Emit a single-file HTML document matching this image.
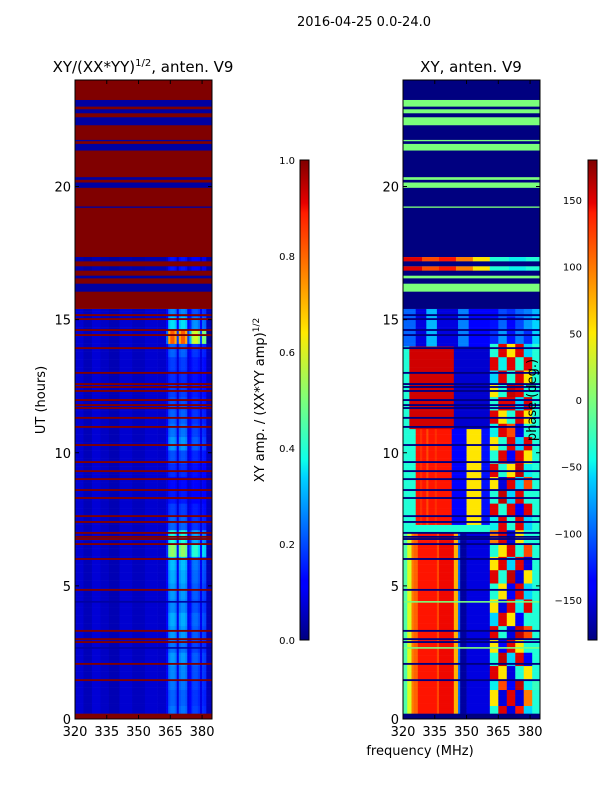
<!DOCTYPE html>
<html><head><meta charset="utf-8">
<style>
body{margin:0;background:#fff;}
svg{display:block;font-family:"DejaVu Sans","Liberation Sans",sans-serif;}
</style></head>
<body>
<svg id="fig" width="600" height="800" viewBox="0 0 600 800">
<defs>
<linearGradient id="jet" x1="0" y1="1" x2="0" y2="0">
<stop offset="0" stop-color="#000080"/><stop offset="0.11" stop-color="#0000ff"/>
<stop offset="0.125" stop-color="#0000ff"/><stop offset="0.34" stop-color="#00d4ff"/>
<stop offset="0.375" stop-color="#0dffea"/><stop offset="0.5" stop-color="#7dff7a"/>
<stop offset="0.64" stop-color="#ffea00"/><stop offset="0.66" stop-color="#ffd800"/>
<stop offset="0.89" stop-color="#ff1c00"/><stop offset="0.91" stop-color="#e80000"/>
<stop offset="1" stop-color="#800000"/>
</linearGradient>
</defs>
<text x="364" y="26" font-size="13" text-anchor="middle">2016-04-25 0.0-24.0</text>
<text x="143" y="72" font-size="15" text-anchor="middle">XY/(XX*YY)<tspan font-size="10" dy="-6">1/2</tspan><tspan dy="6">, anten. V9</tspan></text>
<text x="471" y="72" font-size="15" text-anchor="middle">XY, anten. V9</text>
<g id="leftHM"></g>
<g id="rightHM"></g>
<g id="axes"></g>
<text transform="translate(45,400) rotate(-90)" font-size="13" text-anchor="middle">UT (hours)</text>
<text x="420" y="755" font-size="13" text-anchor="middle">frequency (MHz)</text>
<rect x="300" y="160" width="9" height="480" fill="url(#jet)" stroke="#000" stroke-width="1"/>
<rect x="588" y="160" width="9" height="480" fill="url(#jet)" stroke="#000" stroke-width="1"/>
<text transform="translate(264,400) rotate(-90)" font-size="13" text-anchor="middle">XY amp. / (XX*YY amp)<tspan font-size="9" dy="-5">1/2</tspan></text>
<text transform="translate(536,400) rotate(-90)" font-size="13" text-anchor="middle">phase (deg.)</text>
</svg>
<script>
// ---- data ----
const freqStart = 320;
const ampProfile = [0.07,0.07,0.07,0.07,0.05,0.05,0.05,0.05,0.075,0.075,0.075,0.075,0.06,0.06,0.06,0.06,0.045,0.045,0.045,0.045,0.045,0.07,0.07,0.07,0.07,0.07,0.07,0.055,0.055,0.055,0.055,0.055,0.055,0.07,0.07,0.07,0.07,0.07,0.07,0.065,0.065,0.065,0.065,0.10,0.22,0.24,0.24,0.22,0.09,0.22,0.24,0.24,0.22,0.09,0.12,0.18,0.19,0.19,0.17,0.09,0.17,0.16,0.05,0.05,0.05];
const rowMod = [1.0,0.9,1.0,1.1,1.2,1.0,1.2,1.3,1.1,1.2,1.3,1.4,2.6,1.8,0.9,0.7,0.5,0.4,0.6,0.8,1.2,1.0,0.9,0.8,0.7,0.6,0.7,0.9,4.2,1.6,1.1];
const phaseLow = [-20,-20,40,40,100,110,110,140,140,140,140,140,140,140,140,140,120,145,145,145,145,145,145,145,80,80,-100,-170,-170,-170,-150,-150,-150,-150,-150,-150,-150,-150,-150,-150,-150];
const phaseHighA = [-40,-40,-40,-40,-40,-40,140,140,130,140,140,120,140,140,140,130,140,140,140,140,140,140,140,-140,-140,-140,-140,-140,-140,-140,60,60,60,60,60,60,60,-130,-130,-130,-130];
const phaseHighB = [-40,-40,-40,155,155,155,155,155,155,155,155,155,155,155,155,155,155,155,155,155,155,155,155,155,-155,-155,-155,-155,-155,-155,-155,-155,-155,-155,-155,-155,-155,-155,-155,-155,-155];
const phaseTrans = [-100,-100,-100,-100,-100,-100,-150,-150,-150,-150,-150,-70,-70,-70,-70,-70,-150,-150,-150,-150,-150,-150,-150,-150,-150,-150,-90,-90,-90,-90,-90,-140,-140,-140,-140,-140,-140,-140,-140,-140,-140];
const phaseMix = [
[-40,150,-150,140,-60,-40],[60,-150,150,-150,100,-40],[-50,120,-140,160,-50,-30],[150,60,-150,-40,60,-40],
[-40,160,-60,150,-140,-40],[60,-140,150,60,-40,-40],[150,-40,-150,160,120,-40],[-60,150,60,-140,-40,-40],
[60,-150,150,-50,150,-40],[-40,60,-140,150,-60,-40],[150,-40,160,-150,60,-40],[60,150,-60,150,-150,-40],
[-40,60,150,-40,120,-40],[100,150,-150,60,-40,-40],[-50,150,-40,150,-60,-40],[150,-40,150,-140,150,-40],
[-40,160,-60,150,-40,-40],[60,-150,150,-60,120,-40],[150,-40,60,160,-50,-40],[-40,150,-140,150,60,-40],
[60,-40,150,-60,150,-40],[-50,150,120,-150,-40,-40],[150,60,-40,150,60,-40],[-40,150,150,-60,150,-40],
[60,-40,160,150,-40,-40],[-60,150,-40,150,60,-40],[150,-50,150,-40,150,-40],[-40,150,60,150,-60,-40],
[-120,-80,-130,-90,-120,-60],[-130,-100,-140,-110,-80,-60],[-140,-110,-120,-100,-90,-70]];
const topBands = [[23.0,23.25],[22.75,22.9],[22.3,22.6],[21.7,21.75],[21.35,21.6],[20.25,20.35],[19.95,20.15],[19.2,19.25],[17.2,17.35],[16.85,17.0],[16.55,16.65],[16.05,16.35]];
const topDataBands = [[17.2,17.35],[16.85,17.0]];
const topDataPhase = [150,120,140,100,60,-40,-50,-40];
const flagLines = [15.17,15.02,14.61,14.42,13.93,13.0,12.58,12.47,12.32,11.98,11.79,11.68,11.31,10.97,10.29,9.65,9.31,9.01,8.6,8.3,7.62,7.4,6.99,6.84,6.76,6.57,6.01,4.85,3.31,3.0,2.89,2.07,1.46];
const zeroLines = [4.4,2.67];
const yTicks = [0,5,10,15,20];
const xTicks = [320,335,350,365,380];
const ampTicks = ["0.0","0.2","0.4","0.6","0.8","1.0"];
const phaseTicks = [-150,-100,-50,0,50,100,150];

// ---- scales ----
const NS="http://www.w3.org/2000/svg";
const Y0=719, PXH=26.625, PXF=2.118;
function yS(h){return Y0-h*PXH;}
function xS(f,off){return off+(f-freqStart)*PXF;}
function jet(t){
  t=Math.max(0,Math.min(1,t));
  function seg(pts){for(let i=0;i<pts.length-1;i++){const a=pts[i],b=pts[i+1];if(t>=a[0]&&t<=b[0]){return a[1]+(b[1]-a[1])*(t-a[0])/(b[0]-a[0]);}}return pts[pts.length-1][1];}
  const r=seg([[0,0],[0.35,0],[0.66,1],[0.89,1],[1,0.5]]);
  const g=seg([[0,0],[0.125,0],[0.375,1],[0.64,1],[0.91,0],[1,0]]);
  const b=seg([[0,0.5],[0.11,1],[0.34,1],[0.65,0],[1,0]]);
  return "rgb("+Math.round(r*255)+","+Math.round(g*255)+","+Math.round(b*255)+")";
}
function ampCol(v){return jet(v);}
function phCol(p){return jet((p+180)/360);}
function rect(g,x,y,w,h,fill,name){
  const r=document.createElementNS(NS,"rect");
  r.setAttribute("x",x);r.setAttribute("y",y);r.setAttribute("width",w);r.setAttribute("height",h);r.setAttribute("fill",fill);
  
  
  g.appendChild(r);
}
const NF=ampProfile.length;
function ampValue(h,i){
  const m=rowMod[Math.min(rowMod.length-1,Math.floor(h/0.5))];
  const base=ampProfile[i];
  if(i>=43) return 0.06+(base-0.06)*m;
  return base;
}
function phaseValue(h,i){
  if(i>=41){const row=phaseMix[Math.min(phaseMix.length-1,Math.floor(h/0.5))];return row[Math.min(5,Math.floor((i-41)/4))];}
  if(h<6.9) return phaseLow[i];
  if(h<7.2) return -40;
  if(h<10.8) return phaseHighA[i];
  if(h<13.9) return phaseHighB[i];
  return phaseTrans[i];
}
function drawRow(g,off,h0,h1,fn,name){
  const y=yS(h1),hh=yS(h0)-yS(h1)+0.3;
  let start=0,cur=fn(0);
  for(let i=1;i<=NF;i++){
    const c=i<NF?fn(i):null;
    if(c!==cur){
      const x=xS(freqStart+start,off);const w=Math.min(xS(freqStart+i,off),off+137)-x+0.3;
      rect(g,x,y,w,hh,cur,name);
      start=i;cur=c;
    }
  }
}
function drawPanel(g,off,isAmp){
  for(let h=0.2;h<15.4-1e-9;h+=0.1){
    const h1=Math.min(15.4,h+0.1);
    drawRow(g,off,h,h1,i=>isAmp?ampCol(ampValue(h,i)):phCol(phaseValue(h,i)),"data-row");
  }
  const flagC=isAmp?ampCol(1):phCol(-180), zeroC=isAmp?ampCol(0.03):phCol(0);
  rect(g,off,yS(0.2),137,yS(0)-yS(0.2),flagC,"flag-band");
  rect(g,off,yS(24),137,yS(15.4)-yS(24),flagC,"flag-band");
  topBands.forEach(b=>rect(g,off,yS(b[1]),137,yS(b[0])-yS(b[1]),zeroC,"zero-band"));
  topDataBands.forEach(b=>{
    if(isAmp) drawRow(g,off,b[0],b[1],i=>ampCol(ampValue(1,i)*0.6),"top-data-row");
    else drawRow(g,off,b[0],b[1],i=>phCol(topDataPhase[Math.min(7,Math.floor(i/8.2))]),"top-data-row");
  });
  flagLines.forEach(h=>rect(g,off,yS(h+0.035),137,0.07*PXH,flagC,"flag-line"));
  zeroLines.forEach(h=>rect(g,off,yS(h+0.03),137,0.06*PXH,zeroC,"zero-line"));
}
drawPanel(document.getElementById("leftHM"),75,true);
drawPanel(document.getElementById("rightHM"),403,false);

// ---- axes ----
const ax=document.getElementById("axes");
function line(x1,y1,x2,y2,name){const l=document.createElementNS(NS,"line");l.setAttribute("x1",x1);l.setAttribute("y1",y1);l.setAttribute("x2",x2);l.setAttribute("y2",y2);l.setAttribute("stroke","#000");l.setAttribute("stroke-width","1");


ax.appendChild(l);}
function txt(x,y,s,anchor,name){const t=document.createElementNS(NS,"text");t.setAttribute("x",x);t.setAttribute("y",y);t.setAttribute("font-size","13");t.setAttribute("text-anchor",anchor);t.textContent=s;


ax.appendChild(t);}
[75,403].forEach(off=>{
  const fr=document.createElementNS(NS,"rect");fr.setAttribute("x",off);fr.setAttribute("y",80);fr.setAttribute("width",137);fr.setAttribute("height",639);fr.setAttribute("fill","none");fr.setAttribute("stroke","#000");
  
  
  ax.appendChild(fr);
  yTicks.forEach(v=>{const y=yS(v);line(off,y,off+4,y,"y-tick");line(off+137,y,off+133,y,"y-tick");txt(off-4,y+5,String(v),"end","y-tick-label");});
  xTicks.forEach(v=>{const x=xS(v,off);line(x,719,x,715,"x-tick");line(x,80,x,84,"x-tick");txt(x,736,String(v),"middle","x-tick-label");});
});
ampTicks.forEach((s,i)=>{const y=640-i*96;line(300,y,304,y,"amp-cbar-tick");line(309,y,305,y,"amp-cbar-tick");
  const t=document.createElementNS(NS,"text");t.setAttribute("x",295);t.setAttribute("y",y+4);t.setAttribute("font-size","10");t.setAttribute("text-anchor","end");t.textContent=s;
  
  
  ax.appendChild(t);});
phaseTicks.forEach(v=>{const y=400-v*480/360;line(588,y,592,y,"phase-cbar-tick");line(597,y,593,y,"phase-cbar-tick");
  const t=document.createElementNS(NS,"text");t.setAttribute("x",582);t.setAttribute("y",y+4);t.setAttribute("font-size","10");t.setAttribute("text-anchor","end");t.textContent=(v<0?"\u2212"+(-v):String(v));
  
  
  ax.appendChild(t);});
</script>
</body></html>
